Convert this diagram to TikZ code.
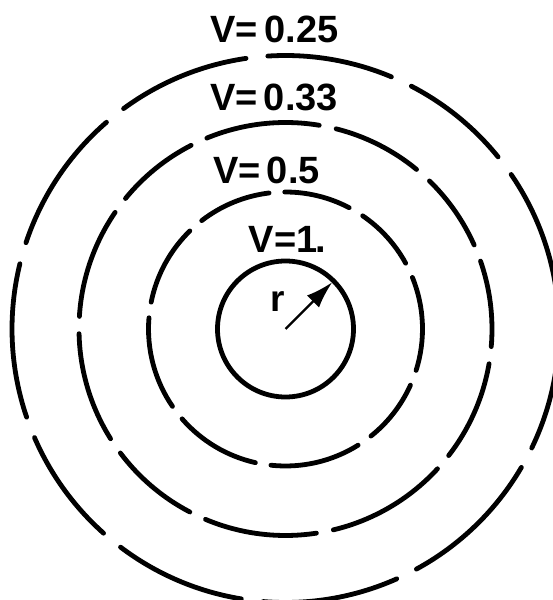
\documentclass[tikz,border=0pt]{standalone}
\usepackage{fontspec}
\setmainfont{Liberation Sans}
\newfontfamily\lblfont{Liberation Sans Bold}
\usetikzlibrary{arrows.meta}
\begin{document}
\begin{tikzpicture}[x=1pt,y=1pt,
  ring/.style={line width=4.8pt,line cap=round},
  lbl/.style={inner sep=0pt,font=\lblfont\fontsize{38}{38}\selectfont},
  rad/.style={line width=2.2pt,-{Latex[length=27pt,width=17pt]}}]
\useasboundingbox (0,0) rectangle (553,600);
\clip (0,0) rectangle (553,600);
\coordinate (O) at (285.5,271);
% inner solid circle
\draw[ring] (O) circle[radius=68];
% V=0.5 circle
\foreach \a/\b in {28.7/55.7,62.3/90.3,96.9/127.7,134.3/168.7,175.3/214.4,221/257.3,263.9/302,308.6/335.8,342.4/382.1}
  \draw[ring] ([shift={(\a:137)}]O) arc[start angle=\a,end angle=\b,radius=137];
% V=0.33 circle
\foreach \a/\b in {24/45.8,50.6/75.8,80.6/112.4,117.2/140.8,145.6/176.5,181.3/212.1,216.9/242.4,247.2/278.6,283.4/317.4,322.2/350.3,355.1/379.2}
  \draw[ring] ([shift={(\a:206.5)}]O) arc[start angle=\a,end angle=\b,radius=206.5];
% V=0.25 circle
\foreach \a/\b in {6.3/34.4,39/62.6,67.2/93.7,98.3/126.3,130.9/161.6,166.2/198.8,203.4/228.3,232.9/260.7,265.3/294,298.6/329.6,334.2/361.7}
  \draw[ring] ([shift={(\a:273.5)}]O) arc[start angle=\a,end angle=\b,radius=273.5];
% radius arrow
\coordinate (T) at ([shift={(45:66)}]O);
\draw[rad] (O) -- (T);
\node[lbl,font=\lblfont\fontsize{37}{37}\selectfont] (r) at (278,298) {r};
% labels
\node[lbl] (v1) at (274.5,571) {V=\,0.25};
\node[lbl] (v2) at (274,502.5) {V=\,0.33};
\node[lbl] (v3) at (266.5,430) {V=\,0.5};
\node[lbl] (v4) at (287.5,361) {V=1\kern-2pt.};
\end{tikzpicture}
\end{document}
